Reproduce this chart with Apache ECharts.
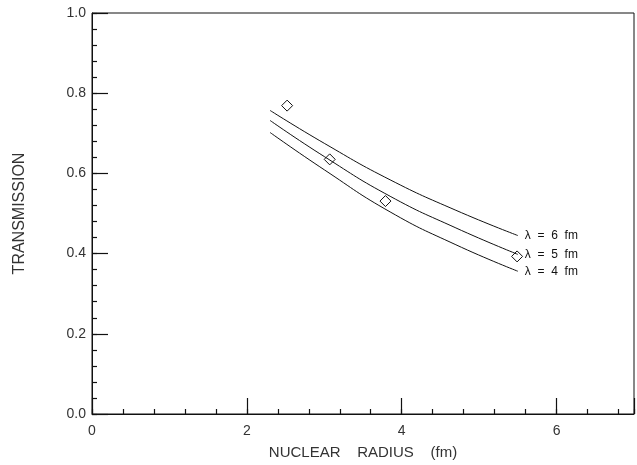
<!DOCTYPE html>
<html>
<head>
<meta charset="utf-8">
<script src="https://cdn.jsdelivr.net/npm/echarts@6/dist/echarts.min.js"></script>
<style>
  html, body { margin: 0; padding: 0; background: #fff; }
  #chart { width: 637px; height: 465px; }
</style>
</head>
<body>
<div id="chart"></div>
<script>
// nuclear radius (fm) where the calculated curves are sampled
const radius = [2.3, 3.0, 3.85, 4.7, 5.5];
// calculated transmission for three values of lambda
const lambda6 = [0.757, 0.675, 0.584, 0.508, 0.445];
const lambda5 = [0.732, 0.642, 0.543, 0.464, 0.398];
const lambda4 = [0.702, 0.609, 0.504, 0.422, 0.356];
const curveLabels = ['λ  =  6  fm', 'λ  =  5  fm', 'λ  =  4  fm'];

// measured points (diamonds)
const measRadius = [2.52, 3.07, 3.79, 5.49];
const measTrans = [0.769, 0.635, 0.531, 0.393];

const xTicks = [0, 2, 4, 6];

const chart = echarts.init(document.getElementById('chart'));

const font = 'Liberation Sans';
const ink = '#111';
const pairs = (xs, ys) => xs.map((x, i) => [x, ys[i]]);

const curve = (values, label) => ({
  type: 'line',
  data: pairs(radius, values),
  smooth: true,
  symbol: 'none',
  lineStyle: { color: ink, width: 1 },
  endLabel: {
    show: true,
    formatter: label,
    distance: 7,
    fontFamily: font,
    fontSize: 12,
    color: ink
  }
});

const option = {
  animation: false,
  grid: { left: 92, right: 2, top: 13, bottom: 51, show: true, borderColor: ink },
  xAxis: [
    { type: 'value', position: 'bottom', min: 0, max: 7, interval: 2,
      name: 'NUCLEAR    RADIUS    (fm)', nameLocation: 'middle', nameGap: 31,
      nameTextStyle: { fontFamily: font, fontSize: 15, color: '#333' },
      axisLine: { show: true, onZero: false, lineStyle: { color: ink } },
      axisTick: { show: true, inside: true, length: 16, lineStyle: { color: ink, width: 1.2 } },
      axisLabel: { margin: 10, fontFamily: font, fontSize: 14, color: '#333',
        formatter: v => xTicks.includes(v) ? String(v) : '' },
      splitLine: { show: false } },
    // short ticks every 0.4 fm
    { type: 'value', position: 'bottom', min: 0, max: 7, interval: 0.4,
      axisLine: { show: false, onZero: false }, axisLabel: { show: false }, splitLine: { show: false },
      axisTick: { show: true, inside: true, length: 5, lineStyle: { color: ink, width: 1.2 } } }
  ],
  yAxis: [
    { type: 'value', position: 'left', min: 0, max: 1, interval: 0.2,
      name: 'TRANSMISSION', nameLocation: 'middle', nameGap: 64, nameRotate: 90,
      nameTextStyle: { fontFamily: font, fontSize: 16, color: '#333' },
      axisLine: { show: true, onZero: false, lineStyle: { color: ink } },
      axisTick: { show: true, inside: true, length: 16, lineStyle: { color: ink, width: 1.2 } },
      axisLabel: { margin: 6, fontFamily: font, fontSize: 14, color: '#333',
        formatter: v => v.toFixed(1) },
      splitLine: { show: false } },
    // short ticks every 0.04
    { type: 'value', position: 'left', min: 0, max: 1, interval: 0.04,
      axisLine: { show: false, onZero: false }, axisLabel: { show: false }, splitLine: { show: false },
      axisTick: { show: true, inside: true, length: 5, lineStyle: { color: ink, width: 1.2 } } }
  ],
  series: [
    curve(lambda6, curveLabels[0]),
    curve(lambda5, curveLabels[1]),
    curve(lambda4, curveLabels[2]),
    {
      type: 'scatter',
      data: pairs(measRadius, measTrans),
      symbol: 'diamond',
      symbolSize: 11,
      itemStyle: { color: '#fff', borderColor: ink, borderWidth: 1, opacity: 1 }
    }
  ]
};

chart.setOption(option);
</script>
</body>
</html>
